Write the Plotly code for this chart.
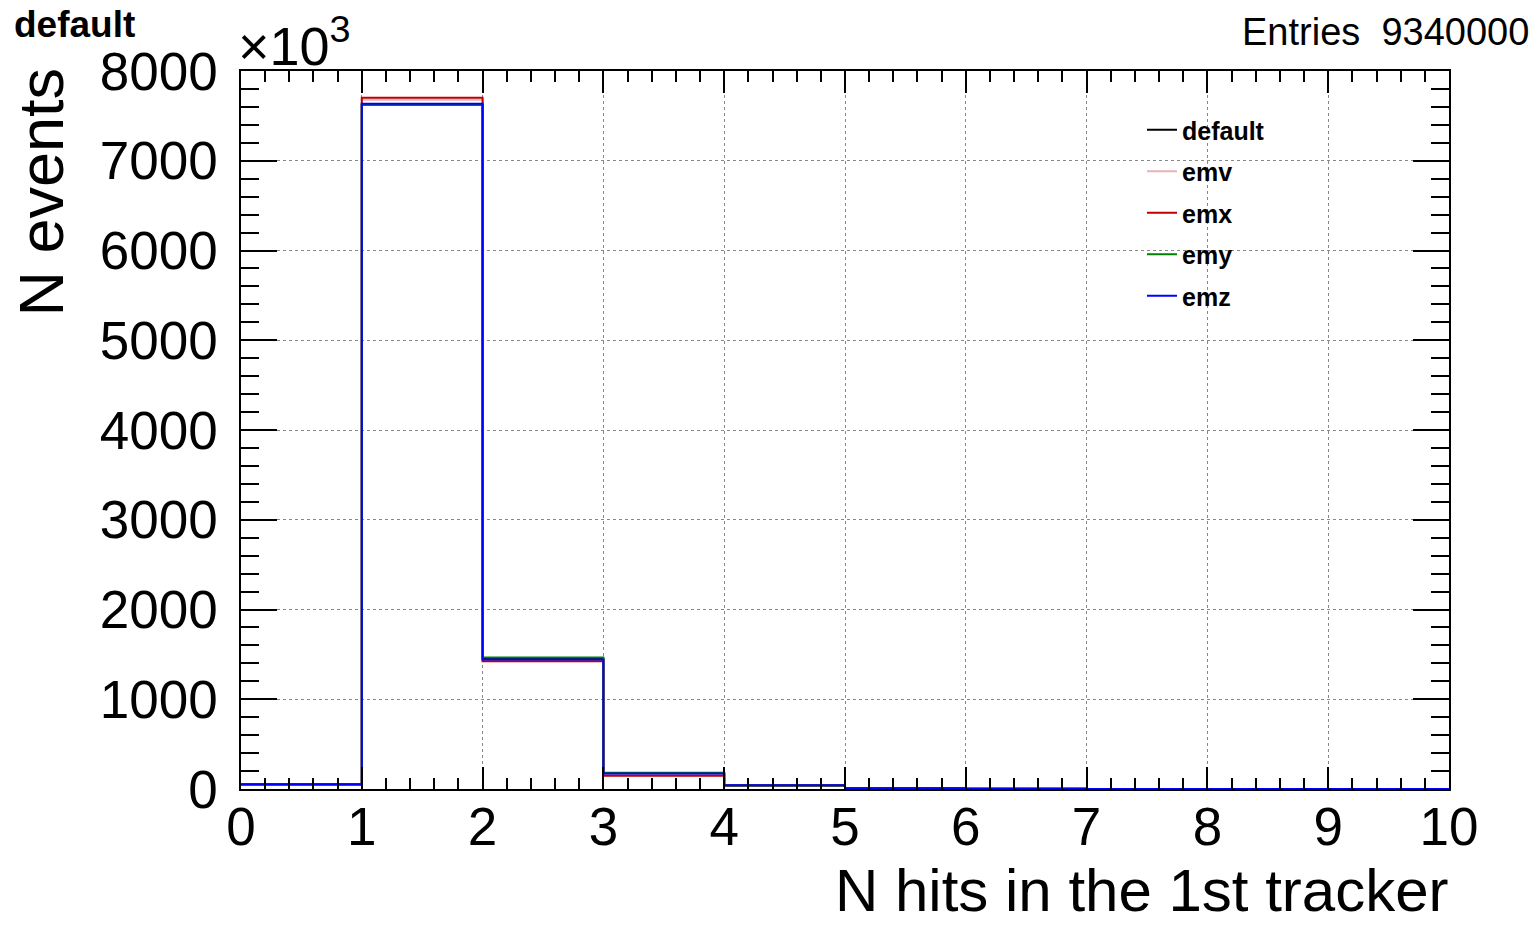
import plotly.graph_objects as go

# Histogram bins (lower edges) and bin contents in units of 10^3 events
bin_edges = [0, 1, 2, 3, 4, 5, 6, 7, 8, 9, 10]
series_names = ["default", "emv", "emx", "emy", "emz"]
series_colors = ["#000000", "#e6b3b8", "#c00000", "#008000", "#0000ff"]

default_vals = [50, 7628, 1448, 172, 38, 7, 2, 1, 0, 0]
emv_vals = [50, 7680, 1430, 152, 38, 7, 2, 1, 0, 0]
emx_vals = [50, 7703, 1424, 148, 38, 7, 2, 1, 0, 0]
emy_vals = [50, 7620, 1466, 180, 38, 7, 2, 1, 0, 0]
emz_vals = [52, 7636, 1444, 173, 41, 7, 2, 1, 0, 0]
all_vals = [default_vals, emv_vals, emx_vals, emy_vals, emz_vals]

x_ticks = list(range(0, 11))
y_ticks = list(range(0, 8001, 1000))

FONT = "Liberation Sans, Arial, Helvetica, sans-serif"

fig = go.Figure()
for name, color, vals in zip(series_names, series_colors, all_vals):
    fig.add_trace(go.Scatter(
        x=bin_edges,
        y=vals + [vals[-1]],
        mode="lines",
        line=dict(color=color, width=2, shape="hv"),
        name=name,
        legendgroup=name,
        hoverinfo="skip",
    ))

W, H = 1538, 927
L, R, T, B = 241, 89, 71, 138
pw, ph = W - L - R, H - T - B

def px_x(p):
    return (p - L) / pw

def px_y(p):
    return (H - B - p) / ph

axis_common = dict(
    showline=True, linecolor="black", linewidth=1.5, mirror="allticks",
    ticks="inside", tickcolor="black", tickwidth=1.5,
    showgrid=True, gridcolor="#888888", griddash="dot", gridwidth=1,
    zeroline=False,
    tickfont=dict(family=FONT, size=53, color="black"),
)

fig.update_xaxes(
    range=[0, 10], tickvals=x_ticks, ticklen=22,
    minor=dict(dtick=0.2, ticklen=11, ticks="inside", tickcolor="black", tickwidth=1.5, showgrid=False),
    ticklabelstandoff=-9,
    **axis_common,
)
fig.update_yaxes(
    range=[0, 8000], tickvals=y_ticks, ticklen=36,
    minor=dict(dtick=200, ticklen=18, ticks="inside", tickcolor="black", tickwidth=1.5, showgrid=False),
    ticklabelstandoff=11,
    **axis_common,
)

annotations = [
    dict(text="N hits in the 1st tracker", xref="paper", yref="paper",
         x=px_x(1451), xanchor="right", y=px_y(855), yanchor="top", showarrow=False,
         font=dict(family=FONT, size=60, color="black")),
    dict(text="N events", xref="paper", yref="paper", textangle=-90,
         x=px_x(3), xanchor="left", y=px_y(66), yanchor="top", showarrow=False,
         font=dict(family=FONT, size=63, color="black")),
    dict(text="<b>default</b>", xref="paper", yref="paper",
         x=px_x(12), xanchor="left", y=px_y(2), yanchor="top", showarrow=False,
         font=dict(family=FONT, size=37, color="black")),
    dict(text="Entries  9340000", xref="paper", yref="paper",
         x=px_x(1531), xanchor="right", y=px_y(9), yanchor="top", showarrow=False,
         font=dict(family=FONT, size=38, color="black")),
    dict(text="×10<sup>3</sup>", xref="paper", yref="paper",
         x=px_x(236), xanchor="left", y=px_y(6), yanchor="top", showarrow=False,
         font=dict(family=FONT, size=54, color="black")),
]

fig.update_layout(
    width=W, height=H,
    margin=dict(l=L, r=R, t=T, b=B, autoexpand=False),
    paper_bgcolor="white", plot_bgcolor="white",
    showlegend=True,
    legend=dict(
        x=px_x(1142), xanchor="left", y=px_y(107), yanchor="top",
        bgcolor="rgba(255,255,255,0)", borderwidth=0,
        font=dict(family=FONT, size=25, color="black", weight="bold"),
        traceorder="grouped", tracegroupgap=6, itemwidth=30,
    ),
    annotations=annotations,
)

fig.write_html("out.html")
